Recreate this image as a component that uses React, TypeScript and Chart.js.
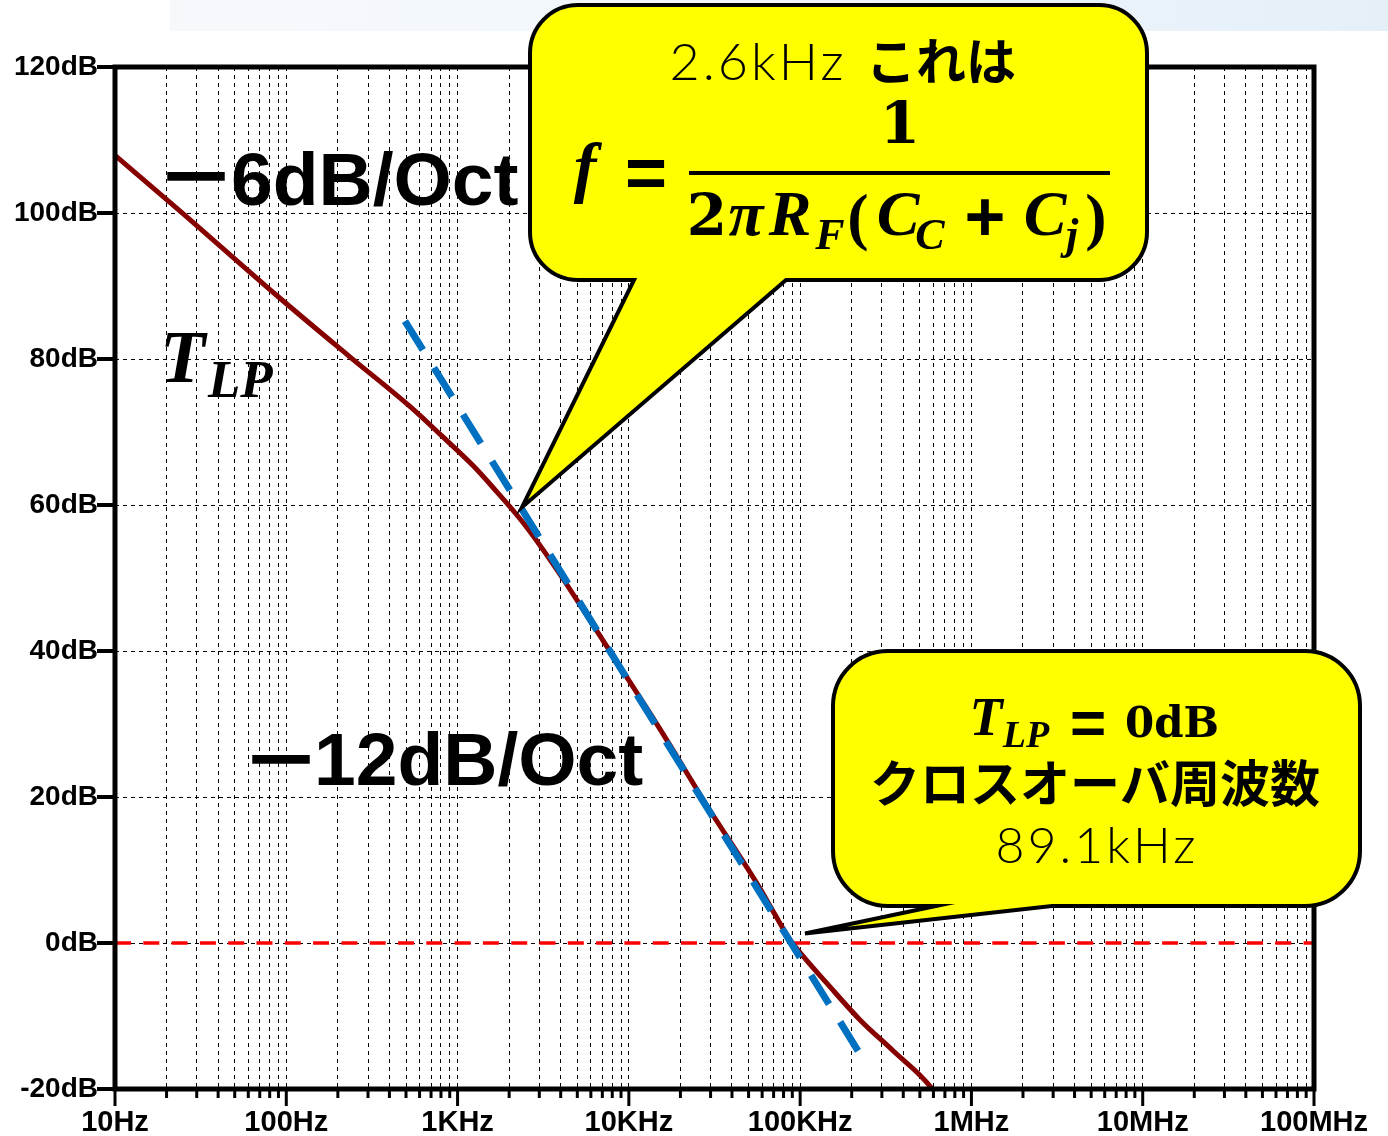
import React, { useEffect, useRef } from 'react';
import { Chart, registerables } from 'chart.js';

Chart.register(...registerables);

// ---- data ----
const curveFreqHz = [10, 23.9, 88, 235, 527, 789, 1230, 1610, 2410, 3610, 7450, 15200, 28600, 58200, 71300, 87100, 104000, 143000, 223000, 350000, 586000, 600000];
const curveGainDb = [107.9, 100.3, 88.7, 80.3, 73.5, 69.7, 65.4, 62.4, 57.6, 51.9, 40.6, 29.3, 18.8, 7.5, 3.9, 0.5, -1.8, -5.5, -10.5, -14.8, -19.9, -20.3];

const slopeFreqHz = [493, 239000];
const slopeGainDb = [85.2, -16.3];

const zeroFreqHz = [10, 1e8];
const zeroGainDb = [0, 0];

const xTickValues = [10, 100, 1e3, 1e4, 1e5, 1e6, 1e7, 1e8];
const xTickLabels = ['10Hz', '100Hz', '1KHz', '10KHz', '100KHz', '1MHz', '10MHz', '100MHz'];
const xMinorMultipliers = [1, 2, 3, 4, 5, 6, 7, 8, 9];

const yTickValues = [-20, 0, 20, 40, 60, 80, 100, 120];
const yTickLabels = ['-20dB', '0dB', '20dB', '40dB', '60dB', '80dB', '100dB', '120dB'];

// annotation anchors (frequency, dB)
const cornerPointerF = 2380;
const cornerPointerDb = 59.7;
const crossPointerF = 106700;
const crossPointerDb = 1.3;

const cornerFreqText = '2.6kHz';
const cornerWordText = 'これは';
const crossTitleText = 'クロスオーバ周波数';
const crossFreqText = '89.1kHz';

const gridValues: number[] = [];
for (let i = 0; i < xTickValues.length - 1; i++) {
  for (const m of xMinorMultipliers) gridValues.push(m * xTickValues[i]);
}
gridValues.push(xTickValues[xTickValues.length - 1]);

const SANS = '"Liberation Sans", Arial, sans-serif';
const SERIF = '"Liberation Serif", "Times New Roman", serif';
const DSERIF = '"DejaVu Serif", "Liberation Serif", serif';
const CJK = '"Noto Sans CJK JP", "Noto Sans CJK SC", sans-serif';
const LIGHT = 'Lato, Roboto, "Open Sans", sans-serif';

function bubble(ctx: CanvasRenderingContext2D, x0: number, y0: number, x1: number, y1: number, r: number, baseA: number, baseB: number, tx: number, ty: number) {
  ctx.beginPath();
  ctx.moveTo(x0 + r, y0);
  ctx.arcTo(x1, y0, x1, y1, r);
  ctx.arcTo(x1, y1, x0, y1, r);
  ctx.lineTo(baseB, y1);
  ctx.lineTo(tx, ty);
  ctx.lineTo(baseA, y1);
  ctx.arcTo(x0, y1, x0, y0, r);
  ctx.arcTo(x0, y0, x1, y0, r);
  ctx.closePath();
  ctx.fillStyle = '#FFFF00';
  ctx.fill();
  ctx.lineWidth = 4;
  ctx.strokeStyle = '#000';
  ctx.lineJoin = 'miter';
  ctx.stroke();
}

function txt(ctx: CanvasRenderingContext2D, s: string, x: number, y: number, font: string, align: CanvasTextAlign = 'center', spacing = '0px') {
  ctx.font = font;
  ctx.textAlign = align;
  ctx.textBaseline = 'alphabetic';
  (ctx as any).letterSpacing = spacing;
  ctx.fillStyle = '#000';
  ctx.fillText(s, x, y);
  (ctx as any).letterSpacing = '0px';
}

const overlayPlugin = {
  id: 'overlay',
  beforeDraw(chart: any) {
    const ctx: CanvasRenderingContext2D = chart.ctx;
    ctx.save();
    ctx.fillStyle = '#fff';
    ctx.fillRect(0, 0, chart.width, chart.height);
    const g = ctx.createLinearGradient(170, 0, 1388, 0);
    g.addColorStop(0, 'rgba(246,249,252,1)');
    g.addColorStop(0.55, 'rgba(240,246,251,1)');
    g.addColorStop(1, 'rgba(228,239,248,1)');
    ctx.fillStyle = g;
    ctx.fillRect(170, 0, chart.width - 170, 31);
    ctx.restore();
  },
  afterDatasetsDraw(chart: any) {
    const ctx: CanvasRenderingContext2D = chart.ctx;
    const xs = chart.scales.x;
    const ys = chart.scales.y;
    const { left, right, top, bottom } = chart.chartArea;
    ctx.save();

    // tick marks
    ctx.strokeStyle = '#000';
    ctx.lineCap = 'butt';
    ctx.lineWidth = 3;
    for (const v of gridValues) {
      const px = xs.getPixelForValue(v);
      const major = xTickValues.some((t) => Math.abs(t - v) < 1e-6 * t);
      ctx.beginPath();
      ctx.moveTo(px, bottom);
      ctx.lineTo(px, bottom + (major ? 17 : 9));
      ctx.stroke();
    }
    ctx.lineWidth = 4;
    for (const v of yTickValues) {
      const py = ys.getPixelForValue(v);
      ctx.beginPath();
      ctx.moveTo(left - 18, py);
      ctx.lineTo(left, py);
      ctx.stroke();
    }
    // frame
    ctx.lineWidth = 5;
    ctx.strokeRect(left, top, right - left, bottom - top);

    // slope labels
    ctx.fillStyle = '#000';
    ctx.strokeStyle = '#000';
    ctx.lineWidth = 3.5;
    ctx.font = `bold 54px ${SANS}`;
    ctx.textAlign = 'left';
    ctx.textBaseline = 'alphabetic';
    ctx.fillText('—', 169, 191);
    ctx.strokeText('—', 169, 191);
    txt(ctx, '6dB/Oct', 231, 205, `bold 75px ${SANS}`, 'left');
    ctx.font = `bold 54px ${SANS}`;
    ctx.textAlign = 'left';
    ctx.fillText('—', 254, 774);
    ctx.strokeText('—', 254, 774);
    txt(ctx, '12dB/Oct', 314, 785, `bold 75px ${SANS}`, 'left');

    // T_LP label
    txt(ctx, 'T', 160, 382, `italic bold 74px ${SERIF}`, 'left');
    txt(ctx, 'LP', 208, 397, `italic bold 53px ${SERIF}`, 'left');

    // callout 1
    const t1x = xs.getPixelForValue(cornerPointerF);
    const t1y = ys.getPixelForValue(cornerPointerDb);
    bubble(ctx, 530, 5, 1147, 280, 48, 634, 786, t1x, t1y);
    txt(ctx, cornerFreqText, 758, 80, `300 52px ${LIGHT}`, 'center', '3px');
    txt(ctx, cornerWordText, 941, 80, `bold 50px ${CJK}`, 'center');
    txt(ctx, 'f', 585, 190, `italic bold 68px ${SERIF}`, 'center');
    txt(ctx, '=', 646, 197, `bold 72px ${SANS}`, 'center');
    ctx.fillStyle = '#000';
    ctx.fillRect(689, 171, 421, 4);
    txt(ctx, '1', 900, 143, `bold 58px ${DSERIF}`, 'center');
    const BI = `italic bold 64px ${SERIF}`;
    const BIs = `italic bold 44px ${SERIF}`;
    txt(ctx, '2', 707, 235, `bold 58px ${DSERIF}`, 'center');
    txt(ctx, 'π', 746, 235, BI, 'center');
    txt(ctx, 'R', 790, 235, BI, 'center');
    txt(ctx, 'F', 830, 249, BIs, 'center');
    txt(ctx, '(', 858, 238, `bold 64px ${SERIF}`, 'center');
    txt(ctx, 'C', 898, 235, BI, 'center');
    txt(ctx, 'C', 930, 249, BIs, 'center');
    txt(ctx, '+', 985, 241, `bold 70px ${SANS}`, 'center');
    txt(ctx, 'C', 1045, 235, BI, 'center');
    txt(ctx, 'j', 1072, 249, BIs, 'center');
    txt(ctx, ')', 1096, 238, `bold 64px ${SERIF}`, 'center');

    // callout 2
    const t2x = xs.getPixelForValue(crossPointerF);
    const t2y = ys.getPixelForValue(crossPointerDb);
    bubble(ctx, 833, 651, 1360, 906, 55, 936, 1052, t2x, t2y);
    txt(ctx, 'T', 986, 735, `italic bold 54px ${SERIF}`, 'center');
    txt(ctx, 'LP', 1026, 747, `italic bold 38px ${SERIF}`, 'center');
    txt(ctx, '=', 1088, 744, `bold 62px ${SANS}`, 'center');
    txt(ctx, '0dB', 1172, 737, `bold 42px ${DSERIF}`, 'center');
    txt(ctx, crossTitleText, 1095, 802, `bold 50px ${CJK}`, 'center');
    txt(ctx, crossFreqText, 1097, 863, `300 50px ${LIGHT}`, 'center', '3px');

    ctx.restore();
  },
};

export default function App() {
  const ref = useRef<HTMLCanvasElement>(null);
  useEffect(() => {
    document.body.style.margin = '0';
    const canvas = ref.current!;
    const chart = new Chart(canvas, {
      type: 'line',
      data: {
        datasets: [
          {
            label: 'slope',
            data: slopeFreqHz.map((f, i) => ({ x: f, y: slopeGainDb[i] })),
            borderColor: '#0070C0',
            borderWidth: 7,
            borderDash: [34, 21],
            borderCapStyle: 'butt',
            pointRadius: 0,
            tension: 0,
            fill: false,
          },
          {
            label: 'TLP',
            data: curveFreqHz.map((f, i) => ({ x: f, y: curveGainDb[i] })),
            borderColor: '#870000',
            borderWidth: 5,
            pointRadius: 0,
            cubicInterpolationMode: 'monotone',
            borderJoinStyle: 'round',
            fill: false,
          },
          {
            label: '0dB',
            data: zeroFreqHz.map((f, i) => ({ x: f, y: zeroGainDb[i] })),
            borderColor: '#FF0000',
            borderWidth: 3.5,
            borderDash: [16, 12.3],
            borderCapStyle: 'butt',
            pointRadius: 0,
            tension: 0,
            fill: false,
          },
        ],
      } as any,
      options: {
        responsive: false,
        animation: false,
        devicePixelRatio: 1,
        events: [],
        layout: { padding: { top: 67, right: 74, left: 0, bottom: 0 } },
        plugins: { legend: { display: false }, tooltip: { enabled: false } },
        scales: {
          x: {
            type: 'logarithmic',
            min: 10,
            max: 1e8,
            afterBuildTicks: (scale: any) => {
              scale.ticks = gridValues.map((v) => ({ value: v }));
            },
            afterFit: (scale: any) => {
              scale.height = 47;
            },
            grid: { color: '#000', lineWidth: 1, drawTicks: false },
            border: { display: false, dash: [4, 4] },
            ticks: {
              autoSkip: false,
              maxRotation: 0,
              minRotation: 0,
              padding: 17,
              color: '#000',
              font: { family: SANS, size: 29, weight: 'bold' },
              callback: (value: any) => {
                const v = Number(value);
                const i = xTickValues.findIndex((t) => Math.abs(t - v) < 1e-6 * t);
                return i >= 0 ? xTickLabels[i] : '';
              },
            },
          },
          y: {
            type: 'linear',
            min: -20,
            max: 120,
            afterBuildTicks: (scale: any) => {
              scale.ticks = yTickValues.map((v) => ({ value: v }));
            },
            afterFit: (scale: any) => {
              scale.width = 115;
            },
            grid: { color: '#000', lineWidth: 1, drawTicks: false },
            border: { display: false, dash: [4, 4] },
            ticks: {
              padding: 17,
              color: '#000',
              font: { family: SANS, size: 28, weight: 'bold' },
              callback: (value: any) => {
                const i = yTickValues.indexOf(Number(value));
                return i >= 0 ? yTickLabels[i] : '';
              },
            },
          },
        },
      } as any,
      plugins: [overlayPlugin],
    });
    return () => chart.destroy();
  }, []);
  return (
    <div style={{ position: 'relative', width: 1388, height: 1136, background: '#fff' }}>
      <canvas ref={ref} width={1388} height={1136} style={{ display: 'block', width: 1388, height: 1136 }} />
    </div>
  );
}
